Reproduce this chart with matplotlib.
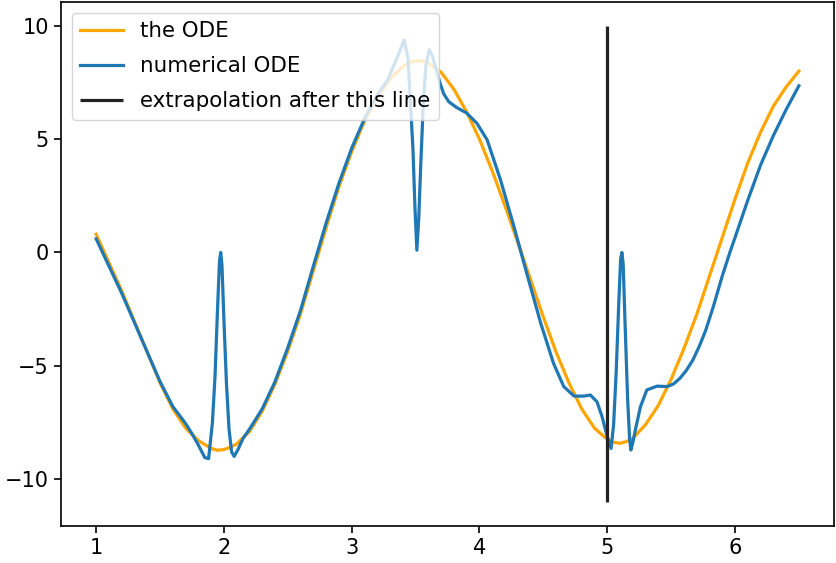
import numpy as np
import matplotlib
matplotlib.use("Agg")
import matplotlib.pyplot as plt

# values
ode_x = [1.0, 1.1, 1.2, 1.3, 1.4, 1.5, 1.6, 1.7, 1.8, 1.9, 1.95, 2.0, 2.05, 2.1, 2.2,
         2.3, 2.4, 2.5, 2.6, 2.7, 2.8, 2.9, 3.0, 3.1, 3.2, 3.3, 3.4, 3.45, 3.5, 3.55,
         3.6, 3.7, 3.8, 3.9, 4.0, 4.1, 4.2, 4.3, 4.4, 4.5, 4.6, 4.7, 4.8, 4.9, 5.0,
         5.05, 5.1, 5.15, 5.2, 5.3, 5.4, 5.5, 5.6, 5.7, 5.8, 5.9, 6.0, 6.1, 6.2, 6.3,
         6.4, 6.5]
ode_y = [0.8, -0.45, -1.7, -3.05, -4.4, -5.75, -6.9, -7.75, -8.3, -8.65, -8.73, -8.7,
         -8.6, -8.45, -7.9, -7.0, -5.8, -4.35, -2.7, -0.8, 1.1, 2.9, 4.45, 5.8, 6.85,
         7.65, 8.2, 8.38, 8.45, 8.45, 8.35, 7.95, 7.2, 6.2, 5.0, 3.6, 2.05, 0.45,
         -1.2, -2.85, -4.4, -5.75, -6.9, -7.75, -8.25, -8.38, -8.42, -8.35, -8.2,
         -7.6, -6.75, -5.6, -4.25, -2.75, -1.05, 0.65, 2.35, 3.95, 5.3, 6.45, 7.3, 8.0]

num_x = [1.0, 1.1, 1.2, 1.3, 1.4, 1.5, 1.6, 1.7, 1.75, 1.8, 1.85, 1.88, 1.91, 1.93,
         1.95, 1.965, 1.975, 1.985, 2.0, 2.02, 2.04, 2.06, 2.08, 2.11, 2.15, 2.2, 2.3,
         2.4, 2.5, 2.6, 2.7, 2.8, 2.9, 3.0, 3.1, 3.2, 3.28, 3.36, 3.41, 3.44, 3.46,
         3.48, 3.495, 3.51, 3.525, 3.54, 3.56, 3.58, 3.607, 3.63, 3.66, 3.69, 3.72,
         3.76, 3.82, 3.9, 3.98, 4.06, 4.165, 4.27, 4.37, 4.48, 4.58, 4.66, 4.74, 4.82,
         4.868, 4.92, 4.96, 5.0, 5.03, 5.05, 5.07, 5.09, 5.105, 5.115, 5.125, 5.14,
         5.16, 5.175, 5.185, 5.2, 5.22, 5.26, 5.31, 5.39, 5.47, 5.52, 5.57, 5.62,
         5.67, 5.72, 5.77, 5.83, 5.9, 5.96, 6.0, 6.1, 6.2, 6.3, 6.4, 6.5]
num_y = [0.6, -0.6, -1.8, -3.1, -4.4, -5.7, -6.8, -7.55, -8.0, -8.5, -9.05, -9.1,
         -7.5, -5.5, -2.5, -0.4, 0.0, -0.6, -3.0, -5.8, -7.8, -8.8, -9.0, -8.7, -8.2,
         -7.8, -6.9, -5.7, -4.2, -2.55, -0.6, 1.3, 3.05, 4.6, 5.9, 6.95, 7.6, 8.65,
         9.38, 8.6, 6.6, 4.5, 2.0, 0.1, 1.5, 3.8, 6.5, 8.2, 8.94, 8.7, 8.1, 7.5, 7.0,
         6.65, 6.4, 6.15, 5.7, 4.97, 3.2, 1.14, -0.92, -3.13, -4.9, -5.92, -6.34,
         -6.34, -6.29, -6.59, -7.25, -8.13, -8.65, -7.6, -5.3, -2.3, -0.3, 0.0, -0.5,
         -3.2, -6.5, -8.2, -8.72, -8.4, -7.84, -6.81, -6.07, -5.9, -5.92, -5.8, -5.55,
         -5.2, -4.75, -4.15, -3.45, -2.4, -1.05, 0.0, 0.65, 2.3, 3.85, 5.15, 6.3, 7.35]

line_x = 5
line_lo, line_hi = -11, 10

plt.rcParams["font.size"] = 15
plt.rcParams["axes.linewidth"] = 1.2
plt.rcParams["xtick.major.size"] = 5.3
plt.rcParams["ytick.major.size"] = 5.3
plt.rcParams["xtick.major.width"] = 1.2
plt.rcParams["ytick.major.width"] = 1.2

fig = plt.figure(figsize=(8.36, 5.63), dpi=100)
ax = fig.add_axes([0.073, 0.0666, 0.9246, 0.9298])
ax.plot(ode_x, ode_y, color="orange", lw=2.3, label="the ODE")
ax.plot(num_x, num_y, color="#1f77b4", lw=2.3, label="numerical ODE")
ax.vlines(line_x, line_lo, line_hi, color="#222222", lw=2.3, label="extrapolation after this line")
ax.set_yticks([-10, -5, 0, 5, 10])
ax.legend(loc="upper left", fontsize=15.4, labelspacing=0.7)
fig.savefig("out.png", dpi=100)
